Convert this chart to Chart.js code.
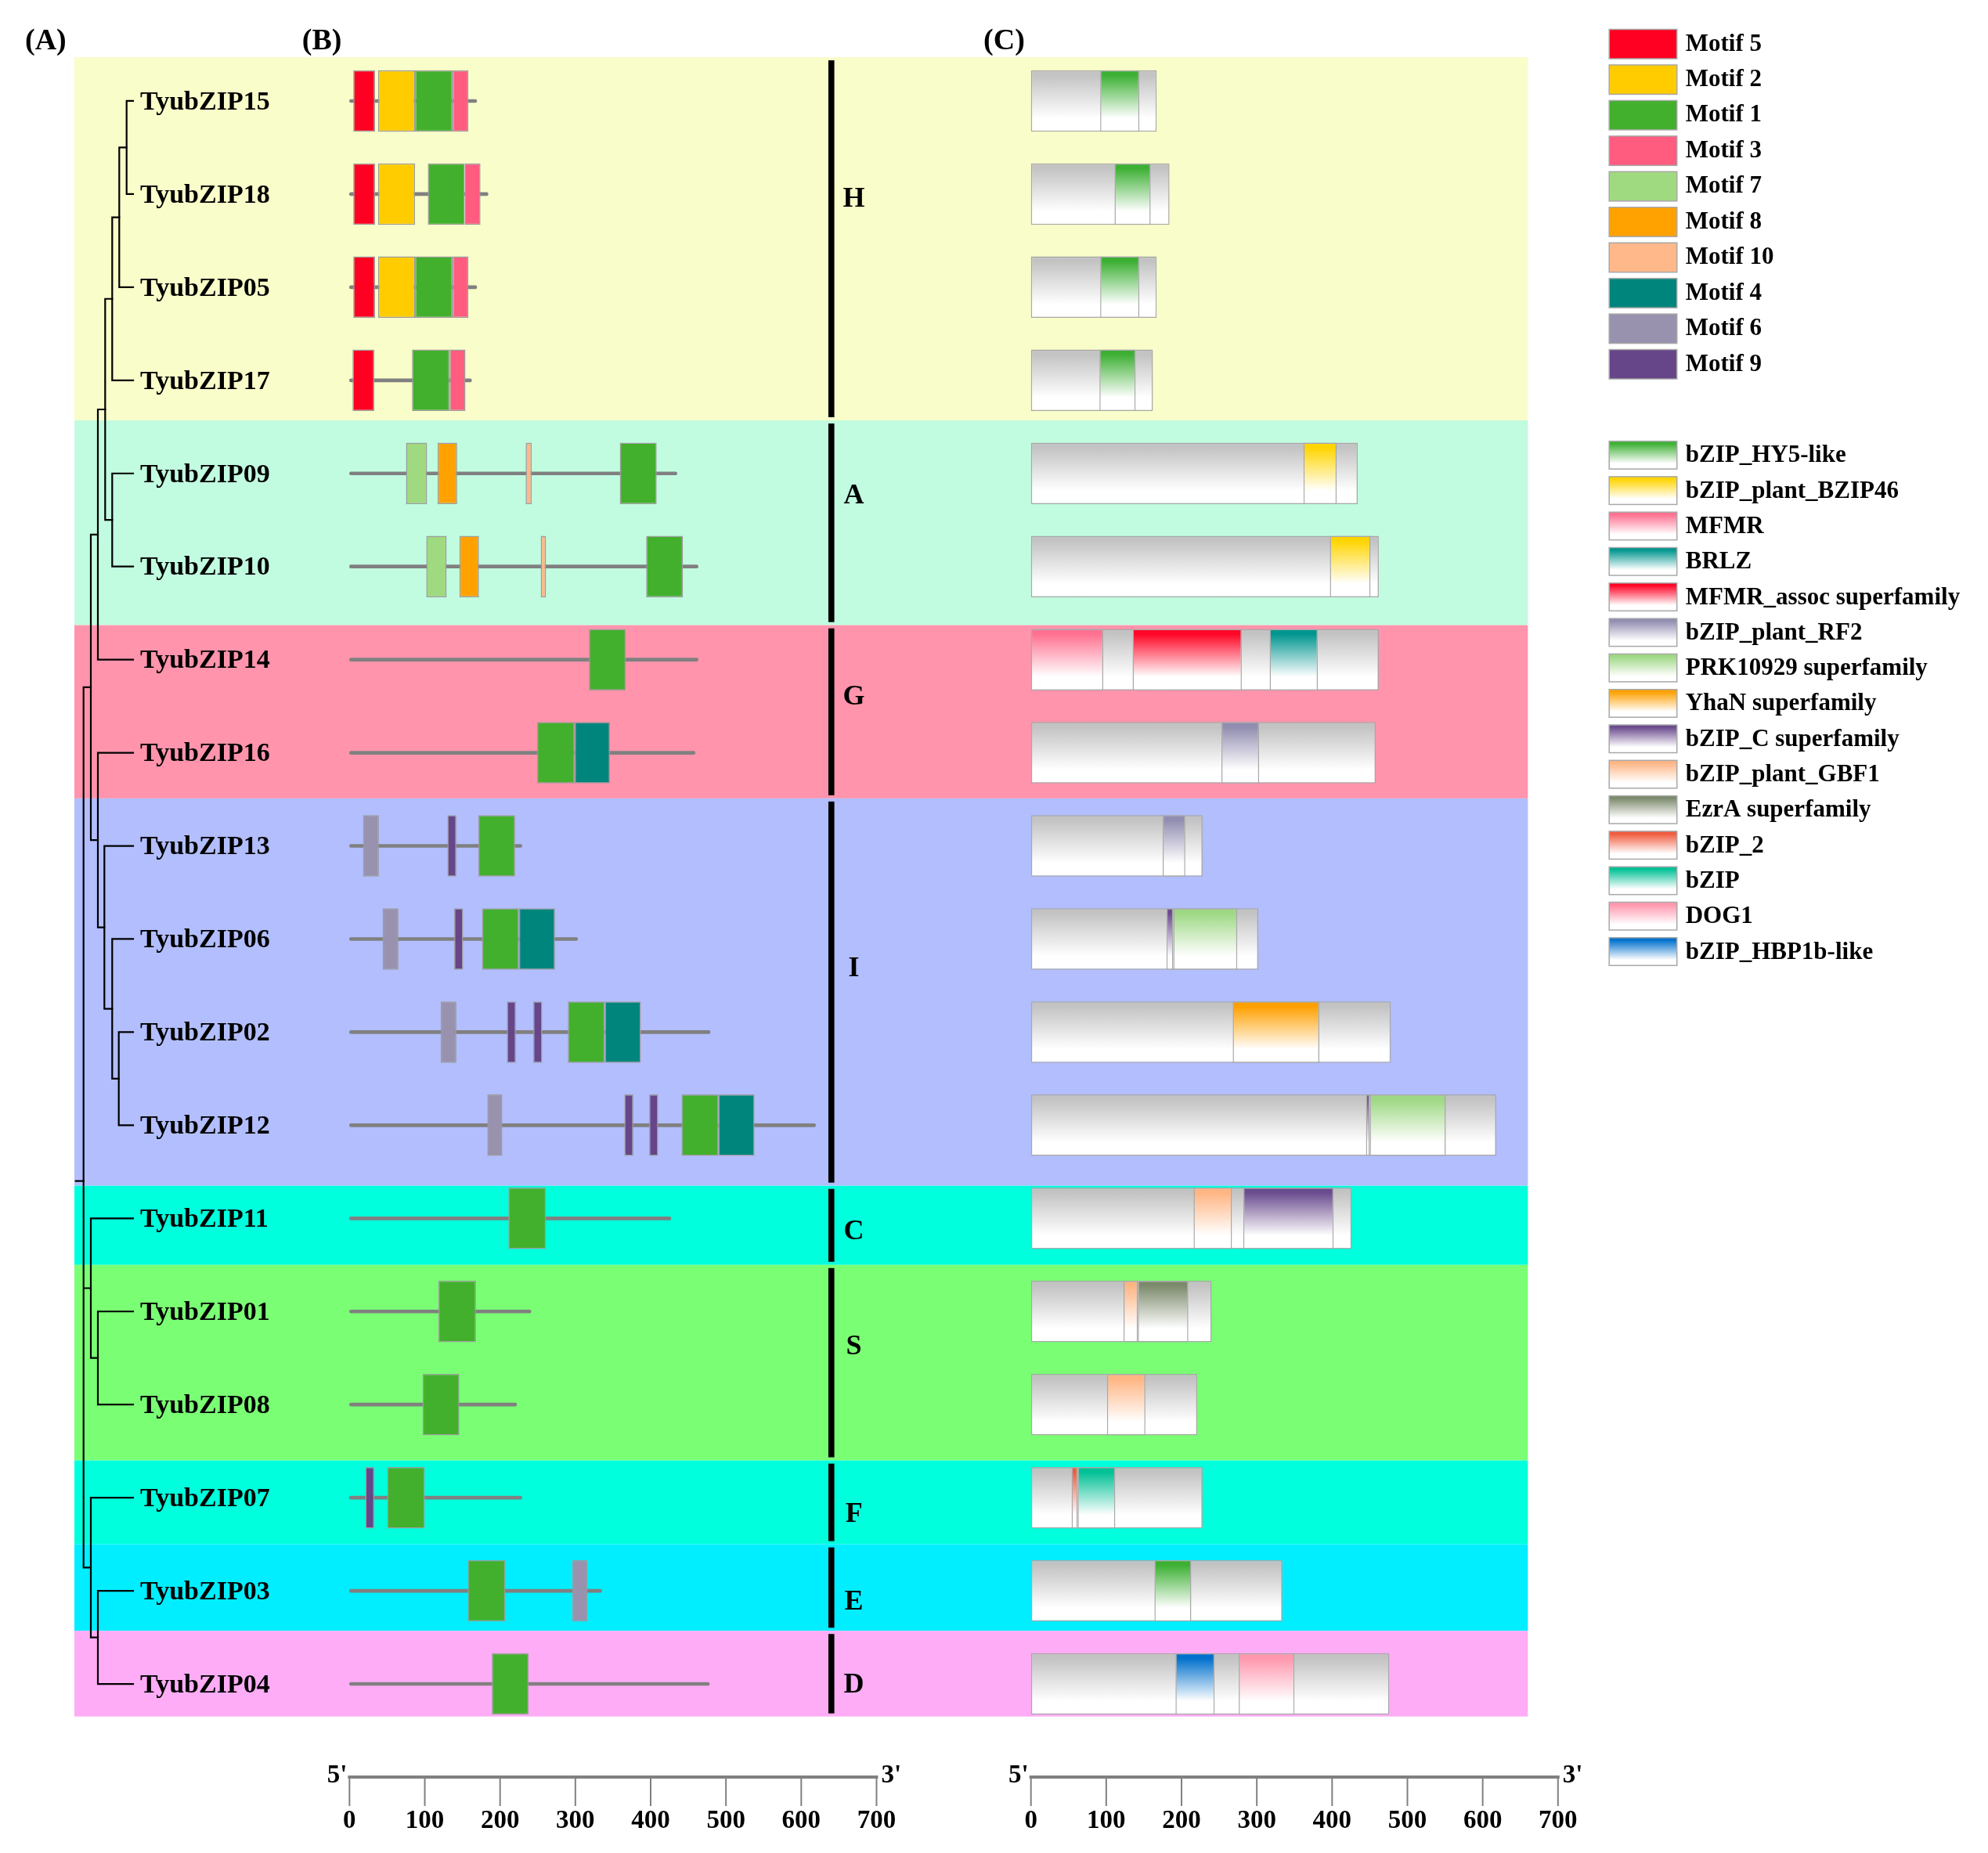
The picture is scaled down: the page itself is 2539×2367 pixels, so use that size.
<!DOCTYPE html>
<html>
<head>
<meta charset="utf-8">
<script src="https://cdn.jsdelivr.net/npm/chart.js@4.4.1/dist/chart.umd.min.js"></script>
<style>
  html, body { margin: 0; padding: 0; background: #fff; overflow: hidden; }
  #wrap { position: relative; width: 2539px; height: 2367px; }
</style>
</head>
<body>
<div id="wrap"><canvas id="myChart"></canvas></div>
<script>
const _ = null;

// genes, top to bottom (same order as the tree tips)
const genes = ['TyubZIP15','TyubZIP18','TyubZIP05','TyubZIP17','TyubZIP09','TyubZIP10',
  'TyubZIP14','TyubZIP16','TyubZIP13','TyubZIP06','TyubZIP02','TyubZIP12',
  'TyubZIP11','TyubZIP01','TyubZIP08','TyubZIP07','TyubZIP03','TyubZIP04'];

// protein length in panel B and panel C (aa)
const motifLen  = [169,184,169,162,435,463,463,459,229,303,479,619,427,241,222,229,335,478];
const domainLen = [167,184,167,162,434,462,462,458,228,302,478,618,426,240,221,228,334,476];

// panel B motifs, one [start, end] per gene
const motif5  = [[5,34],[5,34],[5,34],[4,33],_,_,_,_,_,_,_,_,_,_,_,_,_,_];
const motif2  = [[38,87],[38,87],[38,87],_,_,_,_,_,_,_,_,_,_,_,_,_,_,_];
const motif1  = [[87,137],[104,153],[87,137],[83,133],[359,408],[394,443],[318,367],[249,299],[171,220],
  [176,225],[290,339],[441,490],[211,261],[118,168],[97,146],[50,100],[157,207],[189,238]];
const motif3  = [[137,158],[153,174],[137,158],[133,154],_,_,_,_,_,_,_,_,_,_,_,_,_,_];
const motif7  = [_,_,_,_,[75,103],[102,129],_,_,_,_,_,_,_,_,_,_,_,_];
const motif8  = [_,_,_,_,[117,143],[146,172],_,_,_,_,_,_,_,_,_,_,_,_];
const motif10 = [_,_,_,_,[234,242],[254,261],_,_,_,_,_,_,_,_,_,_,_,_];
const motif4  = [_,_,_,_,_,_,_,[299,346],_,[225,273],[339,387],[490,538],_,_,_,_,_,_];
const motif6  = [_,_,_,_,_,_,_,_,[18,39],[44,65],[121,142],[183,203],_,_,_,_,[296,316],_];
const motif9  = [_,_,_,_,_,_,_,_,[130,142],[139,151],[209,221],[365,377],_,_,_,[21,33],_,_];
const motif9b = [_,_,_,_,_,_,_,_,_,_,[244,256],[398,410],_,_,_,_,_,_];

const motifNames  = ['Motif 5','Motif 2','Motif 1','Motif 3','Motif 7','Motif 8','Motif 10','Motif 4','Motif 6','Motif 9'];
const motifColors = ['#FF0022','#FFCC00','#42B02C','#FF5C80','#A0DA80','#FFA200','#FFB88A','#00857C','#9892AE','#664589'];
const motifData   = [[motif5],[motif2],[motif1],[motif3],[motif7],[motif8],[motif10],[motif4],[motif6],[motif9, motif9b]];

// panel C conserved domains
const dHY5    = [[92,144],[111,159],[92,144],[91,139],_,_,_,_,_,_,_,_,_,_,_,_,[164,213],_];
const dBZIP46 = [_,_,_,_,[362,406],[397,451],_,_,_,_,_,_,_,_,_,_,_,_];
const dMFMR   = [_,_,_,_,_,_,[0,96],_,_,_,_,_,_,_,_,_,_,_];
const dBRLZ   = [_,_,_,_,_,_,[317,381],_,_,_,_,_,_,_,_,_,_,_];
const dAssoc  = [_,_,_,_,_,_,[135,280],_,_,_,_,_,_,_,_,_,_,_];
const dRF2    = [_,_,_,_,_,_,_,[253,303],[175,205],_,_,_,_,_,_,_,_,_];
const dPRK    = [_,_,_,_,_,_,_,_,_,[189,274],_,[450,551],_,_,_,_,_,_];
const dYhaN   = [_,_,_,_,_,_,_,_,_,_,[268,383],_,_,_,_,_,_,_];
const dBzipC  = [_,_,_,_,_,_,_,_,_,[180,189],_,[445,450],[282,402],_,_,_,_,_];
const dGBF1   = [_,_,_,_,_,_,_,_,_,_,_,_,[216,267],[123,142],[101,152],_,_,_];
const dEzrA   = [_,_,_,_,_,_,_,_,_,_,_,_,_,[142,209],_,_,_,_];
const dBzip2  = [_,_,_,_,_,_,_,_,_,_,_,_,_,_,_,[54,62],_,_];
const dBzip   = [_,_,_,_,_,_,_,_,_,_,_,_,_,_,_,[62,112],_,_];
const dDOG1   = [_,_,_,_,_,_,_,_,_,_,_,_,_,_,_,_,_,[276,350]];
const dHBP1b  = [_,_,_,_,_,_,_,_,_,_,_,_,_,_,_,_,_,[192,244]];

const domainNames = ['bZIP_HY5-like','bZIP_plant_BZIP46','MFMR','BRLZ','MFMR_assoc superfamily','bZIP_plant_RF2',
  'PRK10929 superfamily','YhaN superfamily','bZIP_C superfamily','bZIP_plant_GBF1','EzrA superfamily','bZIP_2','bZIP','DOG1','bZIP_HBP1b-like'];
const domainColors = ['#3DB034','#FFD500','#FF7090','#00958F','#FF0526','#918DB0','#9ED884','#FFA000','#6A4B8E',
  '#FFB583','#7C8A6C','#F05A3C','#00C095','#FF97AE','#0070CC'];
const domainData = [dHY5,dBZIP46,dMFMR,dBRLZ,dAssoc,dRF2,dPRK,dYhaN,dBzipC,dGBF1,dEzrA,dBzip2,dBzip,dDOG1,dHBP1b];

// subfamilies
const groupNames = ['H','A','G','I','C','S','F','E','D'];
const bandColors = ['#F9FDC9','#C1FCE0','#FF94AC','#B2BEFD','#00FFDC','#7AFF74','#00FFDC','#00EEFF','#FFACF6'];

// tree: d = depth of the node
const tree = {d:1.17, c:[
  {d:2.1, c:[
    {d:3.0, c:[
      {d:3.93, c:[
        {d:4.83, c:[
          {d:5.73, c:[{d:6.67, c:['TyubZIP15','TyubZIP18']}, 'TyubZIP05']},
          'TyubZIP17']},
        {d:4.83, c:['TyubZIP09','TyubZIP10']}]},
      'TyubZIP14']},
    {d:3.0, c:['TyubZIP16',
      {d:3.83, c:['TyubZIP13',
        {d:4.83, c:['TyubZIP06', {d:5.67, c:['TyubZIP02','TyubZIP12']}]}]}]}]},
  {d:2.1, c:['TyubZIP11', {d:3.0, c:['TyubZIP01','TyubZIP08']}]},
  {d:2.1, c:['TyubZIP07', {d:3.0, c:['TyubZIP03','TyubZIP04']}]}
]};
const TIP_DEPTH = 7.5, ROOT_START = 0.17;

const axisTicks = [0,100,200,300,400,500,600,700];

// ---- look ----
const FONT = '"Liberation Serif", "Times New Roman", serif';
const BOX_FRAC = 0.66;
const DIVIDER_AT = 640, LETTER_AT = 670, BAND_END = 660;
// band edges and letter rows in row units, as placed in the figure
const bandEdges = [-0.47, 3.43, 5.63, 7.49, 11.65, 12.5, 14.6, 15.5, 16.43, 17.35];
const letterRows = [1.06, 4.24, 6.4, 9.32, 12.15, 13.38, 15.18, 16.12, 17.01];

function vgrad(top) {
  return (c) => {
    const chart = c.chart;
    if (c.type !== 'data' || !chart.chartArea) return top;
    const ys = chart.scales.y;
    const yc = ys.getPixelForValue(c.dataIndex);
    const half = (ys.getPixelForValue(1) - ys.getPixelForValue(0)) * BOX_FRAC / 2;
    const g = chart.ctx.createLinearGradient(0, yc - half, 0, yc + half);
    g.addColorStop(0, top);
    g.addColorStop(0.08, top);
    g.addColorStop(0.78, '#ffffff');
    g.addColorStop(1, '#ffffff');
    return g;
  };
}

const datasets = [];
datasets.push({
  label: 'protein', data: motifLen.map(l => [0, l]), xAxisID: 'xb',
  backgroundColor: '#808080', barThickness: 4, borderRadius: 2, borderSkipped: false,
  grouped: false, order: 5
});
motifData.forEach((sets, i) => {
  sets.forEach(arr => datasets.push({
    label: motifNames[i], data: arr, xAxisID: 'xb',
    backgroundColor: motifColors[i], borderColor: '#9c9c9c', borderWidth: 1.5, borderSkipped: false,
    barPercentage: BOX_FRAC, categoryPercentage: 1, grouped: false, order: 1
  }));
});
datasets.push({
  label: 'length', data: domainLen.map(l => [0, l]), xAxisID: 'xc',
  backgroundColor: vgrad('#C3C3C3'), borderColor: '#A8A8A8', borderWidth: 1.5, borderSkipped: false,
  barPercentage: BOX_FRAC, categoryPercentage: 1, grouped: false, order: 5
});
domainData.forEach((arr, i) => datasets.push({
  label: domainNames[i], data: arr, xAxisID: 'xc',
  backgroundColor: vgrad(domainColors[i]), borderColor: '#A8A8A8', borderWidth: 1.5, borderSkipped: false,
  barPercentage: BOX_FRAC, categoryPercentage: 1, grouped: false, order: 1
}));

function drawTree(chart) {
  const {ctx, scales: {y, xt}} = chart;
  ctx.strokeStyle = '#000';
  ctx.lineWidth = 2.2;
  ctx.lineCap = 'square';
  const tipX = xt.getPixelForValue(TIP_DEPTH);
  function walk(node) {
    if (typeof node === 'string') return {x: tipX, y: y.getPixelForValue(genes.indexOf(node))};
    const x = xt.getPixelForValue(node.d);
    const kids = node.c.map(walk);
    const ys = kids.map(k => k.y);
    ctx.beginPath();
    ctx.moveTo(x, Math.min(...ys));
    ctx.lineTo(x, Math.max(...ys));
    kids.forEach(k => { ctx.moveTo(x, k.y); ctx.lineTo(k.x, k.y); });
    ctx.stroke();
    return {x, y: ys.reduce((a, b) => a + b, 0) / ys.length};
  }
  const root = walk(tree);
  ctx.beginPath();
  ctx.moveTo(xt.getPixelForValue(ROOT_START), root.y);
  ctx.lineTo(root.x, root.y);
  ctx.stroke();

  ctx.fillStyle = '#000';
  ctx.font = 'bold 34px ' + FONT;
  ctx.textAlign = 'left';
  ctx.textBaseline = 'middle';
  genes.forEach((g, i) => ctx.fillText(g, tipX + 9, y.getPixelForValue(i) + 2));
}

function drawAxis(chart, scale) {
  const {ctx, scales: {y}} = chart;
  const y0 = y.getPixelForValue(18);
  const x0 = scale.getPixelForValue(0), x1 = scale.getPixelForValue(700);
  ctx.strokeStyle = '#808080';
  ctx.lineWidth = 4;
  ctx.beginPath(); ctx.moveTo(x0, y0); ctx.lineTo(x1, y0); ctx.stroke();
  ctx.lineWidth = 2;
  ctx.fillStyle = '#000';
  ctx.font = 'bold 33px ' + FONT;
  ctx.textBaseline = 'middle';
  axisTicks.forEach(t => {
    const x = scale.getPixelForValue(t);
    ctx.beginPath(); ctx.moveTo(x, y0); ctx.lineTo(x, y0 + 36); ctx.stroke();
    ctx.textAlign = 'center';
    ctx.fillText(String(t), x, y0 + 56);
  });
  ctx.textAlign = 'right';
  ctx.fillText("5'", x0 - 3, y0 - 2);
  ctx.textAlign = 'left';
  ctx.fillText("3'", x1 + 6, y0 - 2);
}

function drawLegends(chart) {
  const {ctx, scales: {xc}} = chart;
  const bx = xc.getPixelForValue(768), bw = xc.getPixelForValue(858) - bx;
  ctx.font = 'bold 31px ' + FONT;
  ctx.textAlign = 'left';
  ctx.textBaseline = 'middle';
  motifNames.forEach((n, i) => {
    const top = 37.5 + i * 45.45;
    ctx.fillStyle = motifColors[i];
    ctx.fillRect(bx, top, bw, 37.5);
    ctx.strokeStyle = '#a8a8a8'; ctx.lineWidth = 1.5;
    ctx.strokeRect(bx, top, bw, 37.5);
    ctx.fillStyle = '#000';
    ctx.fillText(n, bx + bw + 11, top + 19);
  });
  domainNames.forEach((n, i) => {
    const top = 563.6 + i * 45.3, h = 35.5;
    const g = ctx.createLinearGradient(0, top, 0, top + h);
    g.addColorStop(0, domainColors[i]);
    g.addColorStop(0.08, domainColors[i]);
    g.addColorStop(0.8, '#ffffff');
    g.addColorStop(1, '#ffffff');
    ctx.fillStyle = g;
    ctx.fillRect(bx, top, bw, h);
    ctx.strokeStyle = '#a8a8a8'; ctx.lineWidth = 1.5;
    ctx.strokeRect(bx, top, bw, h);
    ctx.fillStyle = '#000';
    ctx.fillText(n, bx + bw + 11, top + h / 2 + 1);
  });
}

const panels = {
  id: 'panels',
  beforeDatasetsDraw(chart) {
    const {ctx, chartArea, scales: {y, xc}} = chart;
    ctx.save();
    const right = xc.getPixelForValue(BAND_END);
    groupNames.forEach((g, i) => {
      const t = y.getPixelForValue(bandEdges[i]), b = y.getPixelForValue(bandEdges[i + 1]);
      ctx.fillStyle = bandColors[i];
      ctx.fillRect(chartArea.left, t, right - chartArea.left, b - t);
    });
    ctx.restore();
  },
  afterDatasetsDraw(chart) {
    const {ctx, chartArea, scales: {y, xb, xc, xt}} = chart;
    ctx.save();
    // subfamily dividers and letters
    const dx = xb.getPixelForValue(DIVIDER_AT), lx = xb.getPixelForValue(LETTER_AT);
    ctx.font = 'bold 36px ' + FONT;
    ctx.textAlign = 'center';
    ctx.textBaseline = 'middle';
    groupNames.forEach((g, i) => {
      const t = y.getPixelForValue(bandEdges[i]), b = y.getPixelForValue(bandEdges[i + 1]);
      ctx.fillStyle = '#000';
      ctx.fillRect(dx - 3.8, t + 4, 7.6, b - t - 8);
      ctx.fillText(g, lx, y.getPixelForValue(letterRows[i]));
    });
    drawTree(chart);
    drawAxis(chart, xb);
    drawAxis(chart, xc);
    drawLegends(chart);
    // panel letters
    ctx.fillStyle = '#000';
    ctx.font = 'bold 38px ' + FONT;
    ctx.textAlign = 'left';
    ctx.textBaseline = 'middle';
    const ly = chartArea.top - 16;
    ctx.fillText('(A)', xt.getPixelForValue(-6.3), ly);
    ctx.fillText('(B)', xb.getPixelForValue(-63), ly);
    ctx.fillText('(C)', xc.getPixelForValue(-63), ly);
    ctx.restore();
  }
};

const ctx = document.getElementById('myChart').getContext('2d');
const myChart = new Chart(ctx, {
  type: 'bar',
  data: { labels: genes, datasets },
  options: {
    indexAxis: 'y',
    responsive: true,
    maintainAspectRatio: false,
    animation: false,
    skipNull: true,
    layout: { padding: { left: 95, right: 549.2, top: 69.5, bottom: 156.5 } },
    plugins: { legend: { display: false }, tooltip: { enabled: false } },
    scales: {
      y:  { type: 'category', display: false, offset: true, grid: { display: false } },
      xb: { type: 'linear', axis: 'x', display: false, min: -365.4, max: 1605.1 },
      xc: { type: 'linear', axis: 'x', display: false, min: -1270.5, max: 700 },
      xt: { type: 'linear', axis: 'x', display: false, min: 0, max: 189.48 }
    }
  },
  plugins: [panels]
});
</script>
</body>
</html>
